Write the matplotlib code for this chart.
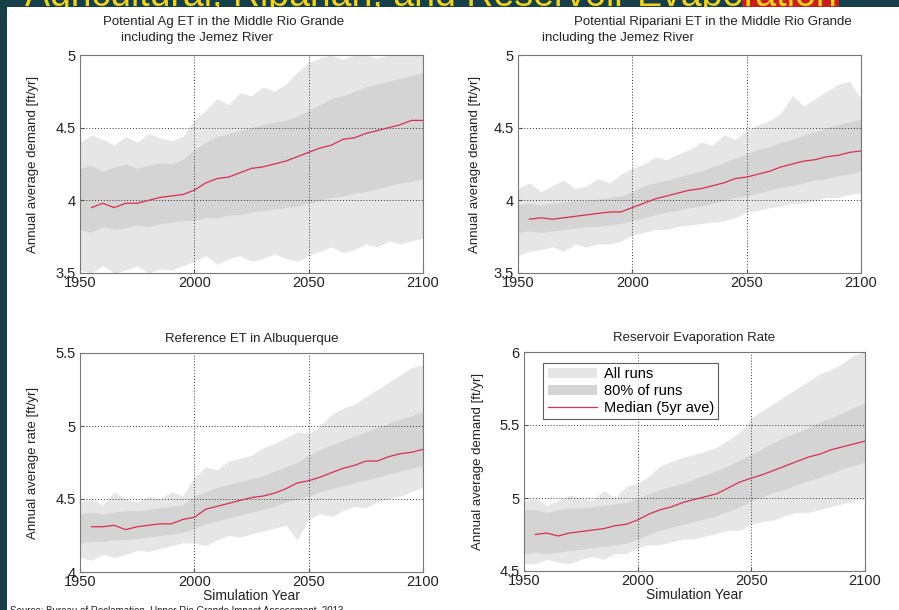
import matplotlib
matplotlib.use("Agg")
import matplotlib.pyplot as plt
from matplotlib.patches import Patch, Rectangle
from matplotlib.lines import Line2D

plt.rcParams["font.family"] = ["Liberation Sans", "DejaVu Sans"]

W, H = 899, 610

# ---- data ----
band_years = list(range(1950, 2101, 5))
median_years = list(range(1955, 2101, 5))

ag_all_hi = [4.40, 4.45, 4.42, 4.38, 4.44, 4.40, 4.46, 4.43, 4.41, 4.44,
             4.55, 4.62, 4.70, 4.66, 4.74, 4.72, 4.78, 4.75, 4.80, 4.88,
             4.95, 4.98, 5.00, 4.97, 5.00, 5.00, 4.98, 5.00, 5.00, 5.00, 5.00]
ag_all_lo = [3.52, 3.50, 3.55, 3.50, 3.52, 3.55, 3.50, 3.53, 3.52, 3.55,
             3.58, 3.62, 3.56, 3.60, 3.62, 3.58, 3.60, 3.63, 3.60, 3.58,
             3.62, 3.65, 3.68, 3.64, 3.66, 3.70, 3.68, 3.72, 3.70, 3.72, 3.74]
ag_p90 = [4.22, 4.24, 4.20, 4.23, 4.25, 4.22, 4.24, 4.26, 4.25, 4.28,
          4.35, 4.40, 4.44, 4.46, 4.48, 4.50, 4.52, 4.54, 4.55, 4.58,
          4.62, 4.66, 4.70, 4.72, 4.75, 4.78, 4.80, 4.82, 4.84, 4.86, 4.88]
ag_p10 = [3.80, 3.78, 3.82, 3.80, 3.81, 3.83, 3.82, 3.84, 3.85, 3.86,
          3.86, 3.88, 3.88, 3.90, 3.90, 3.92, 3.93, 3.94, 3.95, 3.96,
          3.98, 4.00, 4.02, 4.03, 4.05, 4.06, 4.08, 4.10, 4.12, 4.13, 4.15]
ag_median = [3.95, 3.98, 3.95, 3.98, 3.98, 4.00, 4.02, 4.03, 4.04, 4.07,
             4.12, 4.15, 4.16, 4.19, 4.22, 4.23, 4.25, 4.27, 4.30, 4.33,
             4.36, 4.38, 4.42, 4.43, 4.46, 4.48, 4.50, 4.52, 4.55, 4.55]

rip_all_hi = [4.08, 4.12, 4.06, 4.10, 4.14, 4.08, 4.10, 4.15, 4.12, 4.18,
              4.22, 4.25, 4.30, 4.28, 4.32, 4.35, 4.40, 4.38, 4.45, 4.42,
              4.48, 4.52, 4.55, 4.60, 4.72, 4.65, 4.70, 4.75, 4.80, 4.82, 4.70]
rip_all_lo = [3.62, 3.65, 3.66, 3.68, 3.65, 3.70, 3.68, 3.70, 3.70, 3.72,
              3.76, 3.78, 3.80, 3.80, 3.82, 3.83, 3.84, 3.85, 3.86, 3.88,
              3.92, 3.93, 3.95, 3.96, 3.98, 3.98, 4.00, 4.02, 4.02, 4.04, 4.05]
rip_p90 = [3.97, 3.98, 3.97, 3.98, 3.99, 4.00, 4.00, 4.01, 4.02, 4.03,
           4.06, 4.10, 4.12, 4.14, 4.16, 4.18, 4.20, 4.23, 4.26, 4.29,
           4.32, 4.35, 4.37, 4.40, 4.42, 4.45, 4.47, 4.50, 4.52, 4.54, 4.56]
rip_p10 = [3.78, 3.79, 3.78, 3.79, 3.80, 3.81, 3.82, 3.82, 3.83, 3.84,
           3.86, 3.88, 3.90, 3.92, 3.93, 3.95, 3.96, 3.98, 4.00, 4.02,
           4.03, 4.05, 4.07, 4.09, 4.10, 4.12, 4.14, 4.15, 4.17, 4.18, 4.20]
rip_median = [3.87, 3.88, 3.87, 3.88, 3.89, 3.90, 3.91, 3.92, 3.92, 3.95,
              3.98, 4.01, 4.03, 4.05, 4.07, 4.08, 4.10, 4.12, 4.15, 4.16,
              4.18, 4.20, 4.23, 4.25, 4.27, 4.28, 4.30, 4.31, 4.33, 4.34]

ref_all_hi = [4.48, 4.50, 4.46, 4.55, 4.50, 4.48, 4.52, 4.50, 4.55, 4.52,
              4.65, 4.72, 4.70, 4.76, 4.78, 4.80, 4.85, 4.88, 4.92, 4.96,
              4.95, 5.00, 5.08, 5.12, 5.15, 5.20, 5.25, 5.30, 5.35, 5.40, 5.42]
ref_all_lo = [4.10, 4.08, 4.12, 4.10, 4.12, 4.15, 4.14, 4.16, 4.18, 4.20,
              4.20, 4.18, 4.22, 4.25, 4.24, 4.26, 4.28, 4.30, 4.32, 4.22,
              4.36, 4.40, 4.38, 4.42, 4.45, 4.44, 4.48, 4.50, 4.52, 4.55, 4.58]
ref_p90 = [4.40, 4.41, 4.40, 4.41, 4.42, 4.42, 4.43, 4.44, 4.45, 4.46,
           4.52, 4.55, 4.58, 4.60, 4.62, 4.64, 4.66, 4.69, 4.72, 4.75,
           4.80, 4.84, 4.87, 4.90, 4.93, 4.96, 4.99, 5.02, 5.05, 5.07, 5.10]
ref_p10 = [4.20, 4.21, 4.21, 4.22, 4.22, 4.23, 4.24, 4.25, 4.26, 4.27,
           4.30, 4.33, 4.35, 4.37, 4.39, 4.41, 4.43, 4.45, 4.48, 4.50,
           4.52, 4.55, 4.57, 4.59, 4.61, 4.63, 4.65, 4.67, 4.69, 4.71, 4.73]
ref_median = [4.31, 4.31, 4.32, 4.29, 4.31, 4.32, 4.33, 4.33, 4.36, 4.375,
              4.43, 4.45, 4.47, 4.49, 4.51, 4.52, 4.54, 4.57, 4.61, 4.625,
              4.65, 4.68, 4.71, 4.73, 4.76, 4.76, 4.79, 4.81, 4.82, 4.84]

res_all_hi = [4.98, 5.00, 4.95, 4.98, 5.02, 5.00, 4.98, 5.05, 5.00, 5.08,
              5.10, 5.15, 5.22, 5.25, 5.28, 5.30, 5.32, 5.35, 5.40, 5.45,
              5.55, 5.60, 5.65, 5.70, 5.75, 5.80, 5.85, 5.88, 5.92, 5.98, 6.00]
res_all_lo = [4.55, 4.55, 4.58, 4.56, 4.55, 4.58, 4.60, 4.58, 4.62, 4.62,
              4.66, 4.68, 4.68, 4.70, 4.72, 4.72, 4.74, 4.76, 4.78, 4.78,
              4.82, 4.84, 4.85, 4.88, 4.90, 4.90, 4.92, 4.94, 4.96, 4.98, 5.00]
res_p90 = [4.92, 4.92, 4.90, 4.92, 4.93, 4.93, 4.94, 4.95, 4.96, 4.97,
           5.00, 5.03, 5.06, 5.08, 5.10, 5.13, 5.16, 5.19, 5.22, 5.26,
           5.30, 5.34, 5.38, 5.42, 5.45, 5.48, 5.52, 5.55, 5.58, 5.62, 5.65]
res_p10 = [4.62, 4.63, 4.62, 4.63, 4.64, 4.65, 4.66, 4.67, 4.68, 4.69,
           4.72, 4.75, 4.78, 4.80, 4.82, 4.84, 4.86, 4.88, 4.91, 4.94,
           4.98, 5.01, 5.04, 5.06, 5.09, 5.12, 5.14, 5.17, 5.20, 5.22, 5.25]
res_median = [4.75, 4.76, 4.74, 4.76, 4.77, 4.78, 4.79, 4.81, 4.82, 4.85,
              4.89, 4.92, 4.94, 4.97, 4.99, 5.01, 5.03, 5.07, 5.11, 5.136,
              5.16, 5.19, 5.22, 5.25, 5.28, 5.30, 5.33, 5.35, 5.37, 5.39]

x_ticks = [1950, 2000, 2050, 2100]

ALL_C = "#e6e6e6"
P80_C = "#d4d4d4"
MED_C = "#d8304e"
TXT = "#222222"


def fy(y):
    # pixel row (from top) -> figure fraction
    return 1 - y / H


def px_rect(l, r, t, b):
    return [l / W, 1 - b / H, (r - l) / W, (b - t) / H]


def panel(fig, rect, all_lo, all_hi, p10, p90, median, ylim, yticks, ylabel, ylab_x):
    ax = fig.add_axes(px_rect(*rect))
    ax.fill_between(band_years, all_lo, all_hi, color=ALL_C, lw=0)
    ax.fill_between(band_years, p10, p90, color=P80_C, lw=0)
    ax.plot(median_years, median, color=MED_C, lw=0.9)
    ax.set_xlim(1950, 2100)
    ax.set_ylim(*ylim)
    ax.set_xticks(x_ticks)
    ax.set_yticks(yticks)
    ax.set_yticklabels([f"{v:g}" for v in yticks])
    ax.tick_params(direction="in", length=3, labelsize=10.5, colors="#555555",
                   labelcolor=TXT, pad=2)
    ax.tick_params(axis="y", pad=3)
    ax.grid(True, color="#333333", linestyle=(0, (1, 2)), lw=0.7)
    for s in ax.spines.values():
        s.set_color("#777777")
        s.set_linewidth(0.8)
    ax.set_ylabel(ylabel, fontsize=9.5, color=TXT)
    # y label at a fixed pixel column (right edge of the rotated text)
    ax.yaxis.set_label_coords(ylab_x / W, fy((rect[2] + rect[3]) / 2),
                              transform=fig.transFigure)
    return ax


fig = plt.figure(figsize=(W / 100, H / 100), dpi=100, facecolor="#163f4a")
# white slide area, drawn over the (cut-off) slide title but under the axes
fig.patches.append(Rectangle((7 / W, 0), 1, fy(7), transform=fig.transFigure,
                             facecolor="white", edgecolor="none", zorder=-1))

# slide title, mostly cut off at the top of the screenshot
t1 = fig.text(25 / W, fy(6), "Agricultural, Riparian, and Reservoir Evapo",
              fontsize=27, color="#f2d21e", va="baseline", ha="left", zorder=-2)
fig.canvas.draw()
bb = t1.get_window_extent()
fig.text(bb.x1 / W, fy(6), "ration", fontsize=27, color="#f2d21e",
         va="baseline", ha="left", zorder=-2,
         bbox=dict(facecolor="#c8201c", edgecolor="none", pad=1))

ax1 = panel(fig, (80, 423, 55, 273), ag_all_lo, ag_all_hi, ag_p10, ag_p90, ag_median,
            (3.5, 5), [3.5, 4, 4.5, 5], "Annual average demand [ft/yr]", 39)
ax2 = panel(fig, (518, 861, 55, 273), rip_all_lo, rip_all_hi, rip_p10, rip_p90, rip_median,
            (3.5, 5), [3.5, 4, 4.5, 5], "Annual average demand [ft/yr]", 481)
ax3 = panel(fig, (80, 423, 353, 572), ref_all_lo, ref_all_hi, ref_p10, ref_p90, ref_median,
            (4, 5.5), [4, 4.5, 5, 5.5], "Annual average rate [ft/yr]", 39)
ax4 = panel(fig, (524, 865, 352, 571), res_all_lo, res_all_hi, res_p10, res_p90, res_median,
            (4.5, 6), [4.5, 5, 5.5, 6], "Annual average demand [ft/yr]", 484)

# titles
fig.text(103 / W, fy(22), "Potential Ag ET in the Middle Rio Grande",
         fontsize=9.5, color=TXT, ha="left", va="center")
fig.text(121 / W, fy(38), "including the Jemez River",
         fontsize=9.5, color=TXT, ha="left", va="center")
fig.text(852 / W, fy(22), "Potential Ripariani ET in the Middle Rio Grande",
         fontsize=9.5, color=TXT, ha="right", va="center")
fig.text(542 / W, fy(38), "including the Jemez River",
         fontsize=9.5, color=TXT, ha="left", va="center")
ax3.set_title("Reference ET in Albuquerque", fontsize=9.5, color=TXT, pad=8)
ax4.set_title("Reservoir Evaporation Rate", fontsize=9.5, color=TXT, pad=8)

ax3.set_xlabel("Simulation Year", fontsize=10, color=TXT, labelpad=0)
ax4.set_xlabel("Simulation Year", fontsize=10, color=TXT, labelpad=0)

handles = [Patch(facecolor=ALL_C, edgecolor="none"),
           Patch(facecolor=P80_C, edgecolor="none"),
           Line2D([], [], color=MED_C, lw=0.9)]
leg = ax4.legend(handles, ["All runs", "80% of runs", "Median (5yr ave)"],
                 loc="upper left", bbox_to_anchor=(0.035, 0.985), fontsize=10.5,
                 frameon=True, fancybox=False, handlelength=3.4, borderpad=0.3,
                 labelspacing=0.2, handletextpad=0.45)
leg.get_frame().set_edgecolor("#333333")
leg.get_frame().set_linewidth(0.8)

fig.text(10 / W, fy(606),
         "Source: Bureau of Reclamation, Upper Rio Grande Impact Assessment, 2013",
         fontsize=7, color=TXT, ha="left", va="top")

fig.savefig("out.png", dpi=100, facecolor=fig.get_facecolor())
